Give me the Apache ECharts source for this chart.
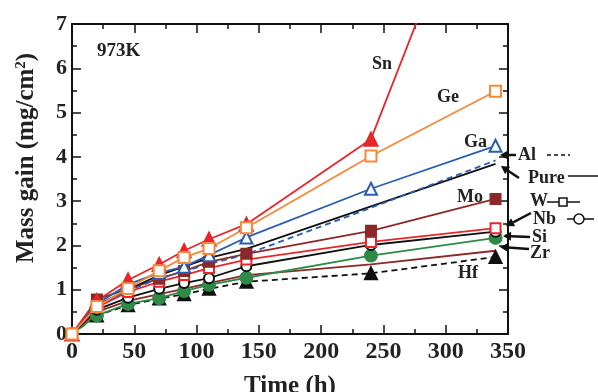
<!DOCTYPE html>
<html>
<head>
<meta charset="utf-8">
<script src="https://cdn.jsdelivr.net/npm/echarts@6/dist/echarts.min.js"></script>
<style>
  html, body { margin: 0; padding: 0; background: #fff; }
  #chart { width: 598px; height: 392px; }
</style>
</head>
<body>
<div id="chart"></div>
<script>
// exposure times (h)
const times = [0, 20, 45, 70, 90, 110, 140, 240, 340];

// mass gain (mg/cm2) per alloying element
const sn = [0, 0.75, 1.22, 1.57, 1.88, 2.14, 2.48, 4.40, 11.6];
const ge = [0, 0.62, 1.03, 1.43, 1.73, 1.93, 2.40, 4.02, 5.48];
const ga = [0, 0.68, 1.12, 1.38, 1.52, 1.78, 2.18, 3.28, 4.25];
const al = [0, 0.62, 0.98, 1.25, 1.42, 1.58, 1.80, 2.85, 3.92];
const pure = [0, 0.65, 1.00, 1.33, 1.52, 1.72, 1.92, 2.88, 3.84];
const mo = [0, 0.78, 1.02, 1.25, 1.42, 1.63, 1.81, 2.33, 3.05];
const w = [0, 0.60, 0.95, 1.18, 1.33, 1.49, 1.68, 2.08, 2.39];
const nb = [0, 0.55, 0.82, 1.02, 1.15, 1.26, 1.53, 2.01, 2.31];
const si = [0, 0.42, 0.68, 0.81, 0.97, 1.11, 1.27, 1.77, 2.17];
const zr = [0, 0.50, 0.75, 0.90, 1.02, 1.15, 1.33, 1.57, 1.88];
const hf = [0, 0.42, 0.65, 0.80, 0.90, 1.02, 1.18, 1.37, 1.74];

const xTicks = [0, 50, 100, 150, 200, 250, 300, 350];
const yTicks = [0, 1, 2, 3, 4, 5, 6, 7];

const RED = '#e8262a';
const ORANGE = '#f5883a';
const BLUE = '#2b5daf';
const DARKRED = '#8b2828';
const GREEN = '#2e8a46';
const BLACK = '#111';

const FONT = '"Liberation Serif", "DejaVu Serif", serif';

const pairs = (vals) => vals.map((v, i) => [times[i], v]);

function line(name, vals, color, symbol, size, dashed) {
  return {
    name: name,
    type: 'line',
    data: pairs(vals),
    symbol: symbol || 'none',
    symbolSize: size || 10,
    showSymbol: !!symbol,
    clip: true,
    lineStyle: { color: color, width: 1.8, type: dashed ? [6, 4] : 'solid' },
    itemStyle: { color: color, borderColor: color, borderWidth: 2 },
    emphasis: { disabled: true },
    animation: false
  };
}

// little arrow used by the right-hand labels
function arrow(x1, y1, x2, y2) {
  const ang = Math.atan2(y2 - y1, x2 - x1);
  const L = 8, Wd = 4.5;
  const bx = x2 - L * Math.cos(ang), by = y2 - L * Math.sin(ang);
  const px = -Math.sin(ang) * Wd, py = Math.cos(ang) * Wd;
  return [
    { type: 'line', shape: { x1: x1, y1: y1, x2: bx, y2: by }, style: { stroke: BLACK, lineWidth: 2.5 } },
    { type: 'polygon', shape: { points: [[x2, y2], [bx + px, by + py], [bx - px, by - py]] }, style: { fill: BLACK } }
  ];
}

function label(text, x, y, size) {
  return {
    type: 'text', x: x, y: y,
    style: { text: text, font: 'bold ' + (size || 18) + 'px ' + FONT, fill: '#222', verticalAlign: 'middle' }
  };
}

const chart = echarts.init(document.getElementById('chart'));

const axisCommon = {
  axisLine: { onZero: false, lineStyle: { color: BLACK, width: 2 } },
  axisTick: { inside: true, length: 9, lineStyle: { color: BLACK, width: 1.5 } },
  minorTick: { show: true, splitNumber: 2, length: 5, lineStyle: { color: BLACK, width: 1.5 } },
  splitLine: { show: false }
};

chart.setOption({
  backgroundColor: '#fff',
  animation: false,
  grid: { left: 72, right: 90, top: 24, bottom: 58, outerBoundsMode: 'none' },
  xAxis: [
    Object.assign({
      type: 'value', min: xTicks[0], max: xTicks[xTicks.length - 1], interval: 50,
      name: 'Time (h)', nameLocation: 'middle', nameGap: 40,
      nameTextStyle: { fontFamily: FONT, fontWeight: 'bold', fontSize: 25, color: '#222' },
      axisLabel: { margin: 6, fontFamily: FONT, fontWeight: 'bold', fontSize: 24, color: '#222' }
    }, axisCommon),
    Object.assign({
      type: 'value', position: 'top', min: xTicks[0], max: xTicks[xTicks.length - 1], interval: 50,
      axisLabel: { show: false }
    }, axisCommon)
  ],
  yAxis: [
    Object.assign({
      type: 'value', min: yTicks[0], max: yTicks[yTicks.length - 1], interval: 1,
      axisLabel: { margin: 5, fontFamily: FONT, fontWeight: 'bold', fontSize: 22, color: '#222' }
    }, axisCommon),
    Object.assign({
      type: 'value', position: 'right', min: yTicks[0], max: yTicks[yTicks.length - 1], interval: 1,
      axisLabel: { show: false }
    }, axisCommon)
  ],
  series: [
    line('Hf', hf, BLACK, 'triangle', 12, true),
    line('Zr', zr, DARKRED),
    line('Si', si, GREEN, 'circle', 12),
    line('Nb', nb, BLACK, 'emptyCircle', 10),
    line('W', w, RED, 'emptyRect', 10),
    line('Mo', mo, DARKRED, 'rect', 10),
    line('Pure', pure, BLACK),
    line('Al', al, BLUE, null, null, true),
    line('Ga', ga, BLUE, 'emptyTriangle', 12),
    line('Sn', sn, RED, 'triangle', 13),
    line('Ge', ge, ORANGE, 'emptyRect', 11)
  ],
  graphic: [
    {
      type: 'text', x: 27, y: 158, rotation: Math.PI / 2,
      style: {
        text: 'Mass gain (mg/cm{sup|2})', align: 'center', verticalAlign: 'middle',
        font: 'bold 25px ' + FONT, fill: '#222',
        rich: { sup: { font: 'bold 15px ' + FONT, fill: '#222', verticalAlign: 'bottom', padding: [0, 0, 12, 0] } }
      }
    },
    label('973K', 97, 51, 19),
    label('Sn', 372, 64),
    label('Ge', 437, 97),
    label('Ga', 464, 142),
    label('Mo', 457, 197),
    label('Hf', 458, 273),
    label('Al', 518, 155),
    { type: 'line', shape: { x1: 547, y1: 155, x2: 570, y2: 155 }, style: { stroke: BLACK, lineWidth: 1.5, lineDash: [4, 3] } },
    label('Pure', 528, 178),
    { type: 'line', shape: { x1: 568, y1: 176, x2: 598, y2: 176 }, style: { stroke: BLACK, lineWidth: 1.5 } },
    label('W', 530, 201),
    { type: 'line', shape: { x1: 547, y1: 202, x2: 580, y2: 202 }, style: { stroke: BLACK, lineWidth: 1.5 } },
    { type: 'rect', shape: { x: 559, y: 198, width: 8, height: 8 }, style: { fill: '#fff', stroke: BLACK, lineWidth: 1.5 } },
    label('Nb', 533, 219),
    { type: 'line', shape: { x1: 567, y1: 219, x2: 594, y2: 219 }, style: { stroke: BLACK, lineWidth: 1.5 } },
    { type: 'circle', shape: { cx: 579, cy: 219, r: 5 }, style: { fill: '#fff', stroke: BLACK, lineWidth: 1.5 } },
    label('Si', 532, 237),
    label('Zr', 530, 253)
  ]
    .concat(arrow(516, 155, 500, 155))
    .concat(arrow(519, 178, 501, 166))
    .concat(arrow(531, 213, 506, 226))
    .concat(arrow(530, 237, 503, 236))
    .concat(arrow(529, 249, 500, 247))
});

window.addEventListener('resize', () => chart.resize());
</script>
</body>
</html>
